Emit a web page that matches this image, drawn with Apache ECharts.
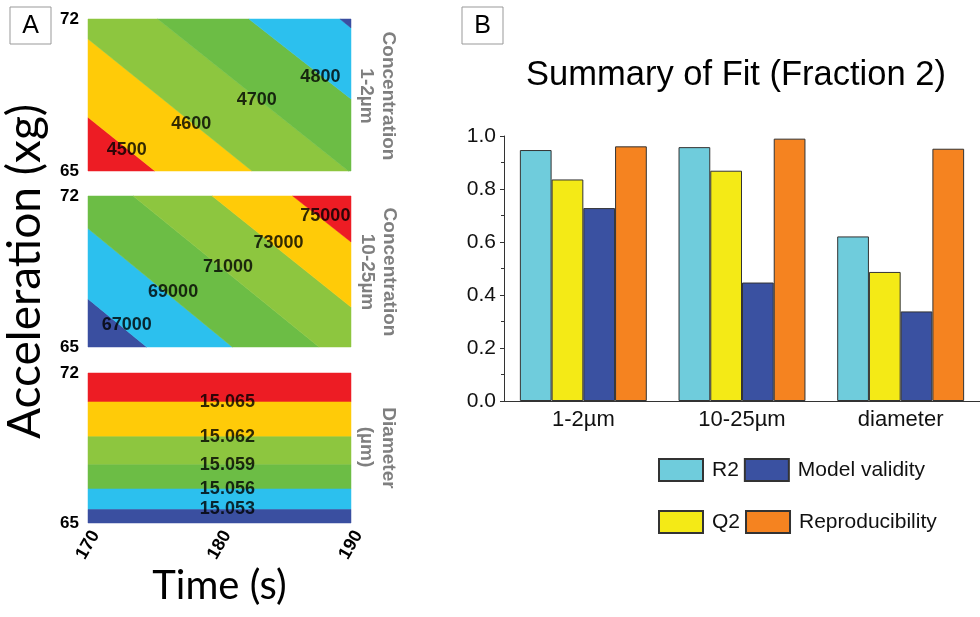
<!DOCTYPE html>
<html>
<head>
<meta charset="utf-8">
<script src="https://cdn.jsdelivr.net/npm/echarts@6/dist/echarts.min.js"></script>
<style>
  html, body { margin: 0; padding: 0; background: #fff; }
  #chart { width: 980px; height: 617px; }
</style>
</head>
<body>
<div id="chart"></div>
<script>
// ---------- Panel A: response surfaces over time and acceleration ----------
const timeRange = [170, 190];
const timeTicks = [170, 180, 190];
const accelRange = [65, 72];

// Isolines as [[time, accel], [time, accel]], one per contour level
const conc12Levels = [4500, 4600, 4700, 4800, 4900];
const conc12Lines = [
  [[170, 67.47], [175.09, 65]],
  [[170, 71.08], [182.47, 65]],
  [[175.30, 72], [189.80, 65]],
  [[182.24, 72], [190, 68.32]],
  [[189.16, 72], [190, 71.59]]
];

const conc1025Levels = [67000, 69000, 71000, 73000, 75000];
const conc1025Lines = [
  [[170, 67.23], [174.46, 65]],
  [[170, 70.49], [180.97, 65]],
  [[173.44, 72], [187.57, 65]],
  [[179.45, 72], [190, 66.85]],
  [[185.57, 72], [190, 69.87]]
];

const diameterLevels = [15.065, 15.062, 15.059, 15.056, 15.053];
const diameterLines = [
  [[190, 70.65], [170, 70.65]],
  [[190, 69.03], [170, 69.03]],
  [[190, 67.72], [170, 67.72]],
  [[190, 66.59], [170, 66.59]],
  [[190, 65.63], [170, 65.63]]
];

// ---------- Panel B: summary of fit ----------
const fitCategories = ['1-2µm', '10-25µm', 'diameter'];
const r2 = [0.947, 0.958, 0.621];
const q2 = [0.836, 0.869, 0.487];
const modelValidity = [0.728, 0.447, 0.338];
const reproducibility = [0.961, 0.990, 0.952];

// ---------- styling ----------
const C = {
  red: '#ED1C24', yellow: '#FFCB08', lgreen: '#8DC63F',
  mgreen: '#6CBD45', cyan: '#2CC0EE', blue: '#3A4FA0'
};
const ARIAL = '"Liberation Sans", Arial, sans-serif';
const TITLE_FONT = 'Lato, "Open Sans", sans-serif';

// band polygons: rectangle clipped between consecutive isolines
function side(a, b, p) {
  return (b[0] - a[0]) * (p[1] - a[1]) - (b[1] - a[1]) * (p[0] - a[0]);
}
function clipHalf(poly, line, keepNeg) {
  const a = line[0], b = line[1];
  const s = p => (keepNeg ? 1 : -1) * side(a, b, p);
  const out = [];
  for (let i = 0; i < poly.length; i++) {
    const p = poly[i], q = poly[(i + 1) % poly.length];
    const sp = s(p), sq = s(q);
    if (sp <= 0) out.push(p);
    if ((sp < 0 && sq > 0) || (sp > 0 && sq < 0)) {
      const t = sp / (sp - sq);
      out.push([p[0] + t * (q[0] - p[0]), p[1] + t * (q[1] - p[1])]);
    }
  }
  return out;
}
function bandPolygon(lines, k) {
  let poly = [[timeRange[0], accelRange[0]], [timeRange[1], accelRange[0]],
              [timeRange[1], accelRange[1]], [timeRange[0], accelRange[1]]];
  if (k > 0) poly = clipHalf(poly, lines[k - 1], false);
  if (k < lines.length) poly = clipHalf(poly, lines[k], true);
  return poly;
}

function contourSeries(idx, lines, levels, colors, labelAt, labelDy, fmt) {
  const bands = colors.map((c, k) => [180, 68.5, k]);
  const labels = [];
  lines.forEach((ln, i) => {
    const t = labelAt[i];
    if (t == null) return;
    labels.push([ln[0][0] + t * (ln[1][0] - ln[0][0]),
                 ln[0][1] + t * (ln[1][1] - ln[0][1]), levels[i]]);
  });
  return [
    {
      type: 'custom', xAxisIndex: idx, yAxisIndex: idx, silent: true,
      data: bands,
      renderItem: (params, api) => {
        const k = params.dataIndex;
        const pts = bandPolygon(lines, k).map(p => api.coord(p));
        return { type: 'polygon', shape: { points: pts },
                 style: { fill: colors[k], stroke: colors[k], lineWidth: 0.5 } };
      }
    },
    {
      type: 'scatter', xAxisIndex: idx, yAxisIndex: idx, silent: true,
      symbolSize: 0, data: labels, z: 5,
      label: {
        show: true, position: 'inside', offset: [0, labelDy],
        formatter: p => fmt(p.value[2]),
        fontFamily: ARIAL, fontWeight: 'bold', fontSize: 18, color: '#000'
      }
    }
  ];
}

const plotGrids = [
  { left: 88, top: 19, width: 263, height: 152 },
  { left: 88, top: 196, width: 263, height: 151 },
  { left: 88, top: 373, width: 263, height: 150 }
];

const xAxesA = plotGrids.map((g, i) => ({
  type: 'value', gridIndex: i, min: timeRange[0], max: timeRange[1], interval: 10,
  show: i === 2,
  axisLine: { show: false }, axisTick: { show: false }, splitLine: { show: false },
  axisLabel: {
    show: i === 2, rotate: 60, align: 'center', verticalAlign: 'middle', margin: 22,
    fontFamily: ARIAL, fontWeight: 'bold', fontSize: 18, color: '#000',
    formatter: v => (timeTicks.indexOf(v) >= 0 ? String(v) : '')
  },
  name: i === 2 ? 'Time (s)' : '', nameLocation: 'middle', nameGap: 42,
  nameTextStyle: { fontFamily: TITLE_FONT, fontSize: 40, color: '#000' }
}));

const yAxesA = plotGrids.map((g, i) => ({
  type: 'value', gridIndex: i, min: accelRange[0], max: accelRange[1], interval: 7,
  axisLine: { show: false }, axisTick: { show: false }, splitLine: { show: false },
  axisLabel: { margin: 9, fontFamily: ARIAL, fontWeight: 'bold', fontSize: 17, color: '#000' },
  name: i === 1 ? 'Acceleration (xg)' : '', nameLocation: 'middle', nameGap: 40,
  nameTextStyle: { fontFamily: TITLE_FONT, fontSize: 46, color: '#000' }
}));

const barBorder = { borderColor: '#333', borderWidth: 1 };
function barSeries(name, data, color) {
  return {
    type: 'bar', name, data, xAxisIndex: 3, yAxisIndex: 3,
    barGap: '0%', barCategoryGap: '20%',
    itemStyle: Object.assign({ color }, barBorder)
  };
}

function sideLabel(x, y, text) {
  return {
    type: 'text', x, y, rotation: -Math.PI / 2,
    style: {
      text, fill: '#7f7f7f', font: 'bold 19px ' + ARIAL,
      textAlign: 'center', textVerticalAlign: 'middle',
      align: 'center', verticalAlign: 'middle'
    }
  };
}
function boxLabel(x, y, text) {
  return [
    { type: 'rect', shape: { x: x, y: y, width: 41, height: 37 },
      style: { fill: '#fff', stroke: '#999', lineWidth: 1 } },
    { type: 'text', x: x + 20.5, y: y + 19.5,
      style: { text, fill: '#000', font: '25px ' + ARIAL,
               textAlign: 'center', textVerticalAlign: 'middle',
               align: 'center', verticalAlign: 'middle' } }
  ];
}

const legendBase = {
  orient: 'horizontal', padding: 0, icon: 'rect',
  itemWidth: 44, itemHeight: 22, itemGap: 5,
  textStyle: { fontFamily: ARIAL, fontSize: 21, color: '#111', padding: [0, 0, 0, 4] }
};

const option = {
  animation: false,
  backgroundColor: '#fff',
  grid: plotGrids.concat([{ left: 504, top: 136, width: 481, height: 265 }]),
  xAxis: xAxesA.concat([
    {
      type: 'category', gridIndex: 3, data: fitCategories,
      axisLine: { lineStyle: { color: '#333', width: 1 } },
      axisTick: { alignWithLabel: true, length: 6, lineStyle: { color: '#333' } },
      axisLabel: { margin: 8, fontFamily: ARIAL, fontSize: 22, color: '#111' }
    },
    {
      type: 'category', gridIndex: 3, data: fitCategories, position: 'bottom',
      axisLine: { show: false }, axisLabel: { show: false },
      axisTick: { length: 4, lineStyle: { color: '#333' } }
    }
  ]),
  yAxis: yAxesA.concat([
    {
      type: 'value', gridIndex: 3, min: 0, max: 1, interval: 0.2,
      axisLine: { show: true, lineStyle: { color: '#333', width: 1 } },
      axisTick: { show: true, length: 4, lineStyle: { color: '#333' } },
      minorTick: { show: true, splitNumber: 2, length: 3, lineStyle: { color: '#333' } },
      splitLine: { show: false },
      axisLabel: { margin: 8, fontFamily: ARIAL, fontSize: 21, color: '#111',
                   formatter: v => v.toFixed(1) }
    }
  ]),
  legend: [
    Object.assign({ data: ['R2', 'Model validity'], left: 658, top: 458 }, legendBase),
    Object.assign({ data: ['Q2', 'Reproducibility'], left: 658, top: 510 }, legendBase)
  ],
  graphic: [
    ...boxLabel(10, 7, 'A'),
    ...boxLabel(462, 7, 'B'),
    {
      type: 'text', x: 736, y: 75,
      style: { text: 'Summary of Fit (Fraction 2)', fill: '#000', font: '34.5px ' + ARIAL,
               textAlign: 'center', textVerticalAlign: 'middle',
               align: 'center', verticalAlign: 'middle' }
    },
    sideLabel(388, 96, 'Concentration'),
    sideLabel(366, 96, '1-2µm'),
    sideLabel(389, 272, 'Concentration'),
    sideLabel(367, 272, '10-25µm'),
    sideLabel(388, 448, 'Diameter'),
    sideLabel(366, 447, '(µm)')
  ],
  series: [
    ...contourSeries(0, conc12Lines, conc12Levels,
      [C.red, C.yellow, C.lgreen, C.mgreen, C.cyan, C.blue],
      [0.58, 0.63, 0.52, 0.70, null], 2, v => String(v)),
    ...contourSeries(1, conc1025Lines, conc1025Levels,
      [C.blue, C.cyan, C.mgreen, C.lgreen, C.yellow, C.red],
      [0.66, 0.59, 0.51, 0.477, 0.56], -6, v => String(v)),
    ...contourSeries(2, diameterLines, diameterLevels,
      [C.red, C.yellow, C.lgreen, C.mgreen, C.cyan, C.blue],
      [0.47, 0.47, 0.47, 0.47, 0.47], 0, v => v.toFixed(3)),
    barSeries('R2', r2, '#6FCCDC'),
    barSeries('Q2', q2, '#F4EA16'),
    barSeries('Model validity', modelValidity, '#3A51A1'),
    barSeries('Reproducibility', reproducibility, '#F58320')
  ]
};

const chart = echarts.init(document.getElementById('chart'), null, { renderer: 'canvas' });
chart.setOption(option);
</script>
</body>
</html>
